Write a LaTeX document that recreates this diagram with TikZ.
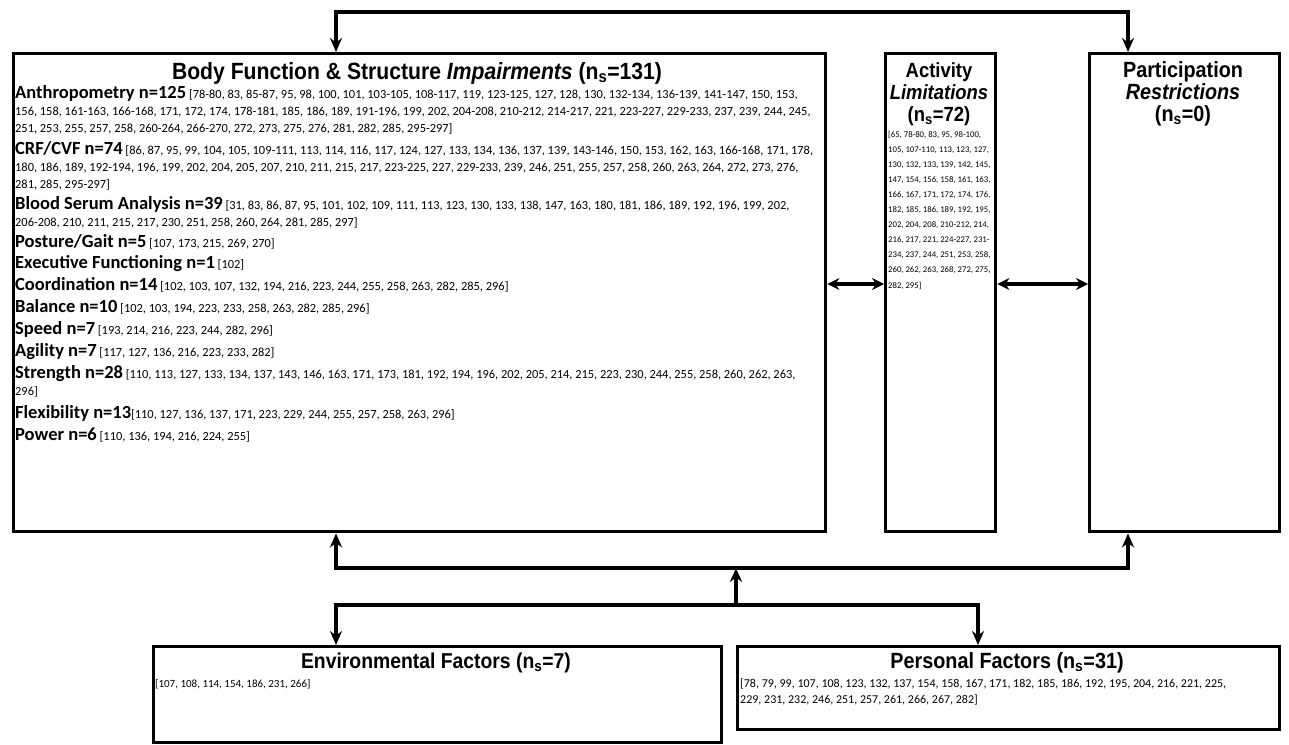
\documentclass[tikz,border=0pt]{standalone}
\usepackage{fontspec}
\setmainfont{Carlito}
\newfontfamily\headfont[FakeStretch=0.9]{Liberation Sans}
\usetikzlibrary{arrows.meta,positioning}

\newcommand{\itemhead}[1]{{\fontsize{18.5}{17}\selectfont\bfseries #1}}

\begin{document}
\begin{tikzpicture}[x=1pt, y=-1pt,
    box/.style={draw, line width=3.4pt, inner sep=0pt, anchor=north west},
    link/.style={line width=3.4pt, line join=miter, -{Stealth[length=14pt, width=12pt]}},
    twoway/.style={line width=3.4pt, {Stealth[length=12pt, width=12pt]}-{Stealth[length=12pt, width=12pt]}},
    title/.style={font=\headfont\bfseries\fontsize{20.5}{22}\selectfont, align=center, anchor=base},
    item/.style={anchor=base west, align=left, inner sep=0pt, font=\fontsize{12.4}{17}\selectfont},
    refs/.style={anchor=base west, align=left, inner sep=0pt}
]
    \useasboundingbox (0,0) rectangle (1289,744);

    % Boxes
    \node[box, minimum width=812pt, minimum height=478pt] (body) at (12,52) {};
    \node[box, minimum width=110pt, minimum height=478pt] (act) at (884,52) {};
    \node[box, minimum width=190pt, minimum height=478pt] (part) at (1088,52) {};
    \node[box, minimum width=568pt, minimum height=96pt] (env) at (152,645) {};
    \node[box, minimum width=542pt, minimum height=83pt] (pers) at (736,645) {};

    % Titles (base = last line)
    \node[title, font=\headfont\bfseries\fontsize{23.5}{22}\selectfont] (bodytitle) at (417,79) {Body Function \& Structure \textit{Impairments} (n\textsubscript{s}=131)};
    \node[title] (acttitle) at (939,121) {Activity\\\textit{Limitations}\\(n\textsubscript{s}=72)};
    \node[title, font=\headfont\bfseries\fontsize{22}{22}\selectfont] (parttitle) at (1183,121) {Participation\\\textit{Restrictions}\\(n\textsubscript{s}=0)};
    \node[title, font=\headfont\bfseries\fontsize{21.5}{22}\selectfont] (envtitle) at (436,668) {Environmental Factors (n\textsubscript{s}=7)};
    \node[title, font=\headfont\bfseries\fontsize{22}{22}\selectfont] (perstitle) at (1007,668) {Personal Factors (n\textsubscript{s}=31)};

    % Impairment items (base = last line)
    \node[item] (anthro) at (15,132) {\itemhead{Anthropometry n=125} [78-80, 83, 85-87, 95, 98, 100, 101, 103-105, 108-117, 119, 123-125, 127, 128, 130, 132-134, 136-139, 141-147, 150, 153,\\
        156, 158, 161-163, 166-168, 171, 172, 174, 178-181, 185, 186, 189, 191-196, 199, 202, 204-208, 210-212, 214-217, 221, 223-227, 229-233, 237, 239, 244, 245,\\
        251, 253, 255, 257, 258, 260-264, 266-270, 272, 273, 275, 276, 281, 282, 285, 295-297]};
    \node[item] (crf) at (15,188) {\itemhead{CRF/CVF n=74} [86, 87, 95, 99, 104, 105, 109-111, 113, 114, 116, 117, 124, 127, 133, 134, 136, 137, 139, 143-146, 150, 153, 162, 163, 166-168, 171, 178,\\
        180, 186, 189, 192-194, 196, 199, 202, 204, 205, 207, 210, 211, 215, 217, 223-225, 227, 229-233, 239, 246, 251, 255, 257, 258, 260, 263, 264, 272, 273, 276,\\
        281, 285, 295-297]};
    \node[item] (blood) at (15,226) {\itemhead{Blood Serum Analysis n=39} [31, 83, 86, 87, 95, 101, 102, 109, 111, 113, 123, 130, 133, 138, 147, 163, 180, 181, 186, 189, 192, 196, 199, 202,\\
        206-208, 210, 211, 215, 217, 230, 251, 258, 260, 264, 281, 285, 297]};
    \node[item] (posture) at (15,247) {\itemhead{Posture/Gait n=5} [107, 173, 215, 269, 270]};
    \node[item] (exec) at (15,268) {\itemhead{Executive Functioning n=1} [102]};
    \node[item] (coord) at (15,290) {\itemhead{Coordination n=14} [102, 103, 107, 132, 194, 216, 223, 244, 255, 258, 263, 282, 285, 296]};
    \node[item] (balance) at (15,312) {\itemhead{Balance n=10} [102, 103, 194, 223, 233, 258, 263, 282, 285, 296]};
    \node[item] (speed) at (15,334) {\itemhead{Speed n=7} [193, 214, 216, 223, 244, 282, 296]};
    \node[item] (agility) at (15,356) {\itemhead{Agility n=7} [117, 127, 136, 216, 223, 233, 282]};
    \node[item] (strength) at (15,395) {\itemhead{Strength n=28} [110, 113, 127, 133, 134, 137, 143, 146, 163, 171, 173, 181, 192, 194, 196, 202, 205, 214, 215, 223, 230, 244, 255, 258, 260, 262, 263,\\
        296]};
    \node[item] (flex) at (15,418) {\itemhead{Flexibility n=13}[110, 127, 136, 137, 171, 223, 229, 244, 255, 257, 258, 263, 296]};
    \node[item] (power) at (15,440) {\itemhead{Power n=6} [110, 136, 194, 216, 224, 255]};

    % Reference lists (base = last line)
    \node[refs, font=\fontsize{8.7}{15.1}\selectfont] (actrefs) at (888,288) {[65, 78-80, 83, 95, 98-100,\\
        105, 107-110, 113, 123, 127,\\
        130, 132, 133, 139, 142, 145,\\
        147, 154, 156, 158, 161, 163,\\
        166, 167, 171, 172, 174, 176,\\
        182, 185, 186, 189, 192, 195,\\
        202, 204, 208, 210-212, 214,\\
        216, 217, 221, 224-227, 231-\\
        234, 237, 244, 251, 253, 258,\\
        260, 262, 263, 268, 272, 275,\\
        282, 295]};
    \node[refs, font=\fontsize{11}{16}\selectfont] (envrefs) at (155,687) {[107, 108, 114, 154, 186, 231, 266]};
    \node[refs, font=\fontsize{12}{16}\selectfont] (persrefs) at (740,703) {[78, 79, 99, 107, 108, 123, 132, 137, 154, 158, 167, 171, 182, 185, 186, 192, 195, 204, 216, 221, 225,\\
        229, 231, 232, 246, 251, 257, 261, 266, 267, 282]};

    % Connectors
    \coordinate (topl) at (336,12);
    \coordinate (topr) at (1128,12);
    \draw[link] (topr) -- (topl) -- (topl |- body.north);
    \draw[link] (topl) -- (topr) -- (topr |- part.north);

    \coordinate (midy) at (0,284);
    \draw[twoway] (body.east |- midy) -- (act.west |- midy);
    \draw[twoway] (act.east |- midy) -- (part.west |- midy);

    \coordinate (lowl) at (336,568);
    \coordinate (lowr) at (1128,568);
    \coordinate (hub) at (736,605);
    \coordinate (hubl) at (336,605);
    \coordinate (hubr) at (978,605);
    \draw[link] (lowr) -- (lowl) -- (lowl |- body.south);
    \draw[link] (lowl) -- (lowr) -- (lowr |- part.south);
    \draw[link] (hub) -- (hub |- lowl);
    \draw[link] (hubr) -- (hubl) -- (hubl |- env.north);
    \draw[link] (hubl) -- (hubr) -- (hubr |- pers.north);
\end{tikzpicture}
\end{document}
